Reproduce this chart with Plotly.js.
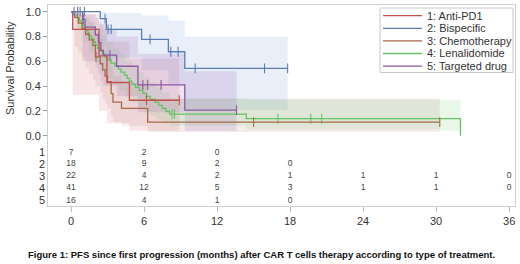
<!DOCTYPE html>
<html>
<head>
<meta charset="utf-8">
<script src="https://cdn.plot.ly/plotly-3.0.1.min.js"></script>
<style>html,body{margin:0;padding:0;background:#fff;}#chart{width:520px;height:264px;}</style>
</head>
<body>
<div id="chart"></div>
<script>
// ---------- data ----------
const groupNames = ["1: Anti-PD1", "2: Bispecific", "3: Chemotherapy", "4: Lenalidomide", "5: Targeted drug"];
const groupColors = ["#c4504e", "#5d7db0", "#a6694a", "#62c462", "#8c58a4"];
const bandColors = ["rgba(205,90,110,0.15)", "rgba(110,150,210,0.15)", "rgba(170,110,90,0.13)", "rgba(110,200,110,0.15)", "rgba(150,90,180,0.17)"];

// 1: Anti-PD1
const pd1Time  = [0, 0.14, 2.3, 2.95, 4.8, 8.9];
const pd1Surv  = [1, 0.857, 0.643, 0.429, 0.286, 0.286];
const pd1Lower = [1, 0.33, 0.2, 0.1, 0.04, 0.04];
const pd1Upper = [1, 0.98, 0.9, 0.76, 0.62, 0.62];
const pd1Cens  = [6.2, 8.9];

// 2: Bispecific
const bsTime  = [0, 2.4, 2.9, 5.8, 8.0, 9.35, 17.8];
const bsSurv  = [1, 0.944, 0.857, 0.777, 0.677, 0.543, 0.543];
const bsLower = [1, 0.74, 0.63, 0.53, 0.41, 0.21, 0.21];
const bsUpper = [1, 1, 0.99, 0.97, 0.93, 0.8, 0.8];
const bsCens  = [0.25, 0.75, 1.1, 2.8, 3.05, 3.3, 6.5, 8.2, 8.8, 10.2, 15.9, 17.8];

// 3: Chemotherapy
const chTime  = [0, 0.3, 0.6, 0.9, 1.2, 1.5, 1.8, 2.0, 2.4, 2.6, 2.8, 3.0, 3.3, 3.45, 4.15, 6.3, 30.3];
const chSurv  = [1, 0.955, 0.909, 0.864, 0.818, 0.773, 0.727, 0.636, 0.58, 0.53, 0.48, 0.435, 0.34, 0.27, 0.22, 0.11, 0.11];
const chLower = [1, 0.72, 0.67, 0.6, 0.55, 0.5, 0.45, 0.4, 0.35, 0.3, 0.26, 0.22, 0.16, 0.11, 0.08, 0.03, 0.03];
const chUpper = [1, 1, 0.99, 0.97, 0.95, 0.92, 0.89, 0.83, 0.78, 0.74, 0.69, 0.65, 0.56, 0.48, 0.42, 0.3, 0.3];
const chCens  = [2.05, 15.0, 30.3];

// 4: Lenalidomide
const lnTime = [0, 0.3, 0.5, 0.7, 0.9, 1.0, 1.2, 1.4, 1.5, 1.7, 1.9, 2.0, 2.2, 2.4, 2.6, 2.8, 3.0, 3.3, 3.6, 3.9, 4.1, 4.4, 4.6, 4.8, 5.0, 5.3, 5.6, 5.9, 6.2, 6.5, 6.9, 7.2, 7.5, 7.8, 8.1, 14.4, 32.0];
const lnSurv = [1, 0.976, 0.951, 0.927, 0.902, 0.878, 0.854, 0.829, 0.805, 0.780, 0.756, 0.732, 0.707, 0.683, 0.659, 0.634, 0.610, 0.585, 0.561, 0.537, 0.512, 0.488, 0.463, 0.439, 0.415, 0.390, 0.366, 0.342, 0.317, 0.293, 0.268, 0.244, 0.220, 0.195, 0.174, 0.137, 0];
const lnBandTime = [0, 0.5, 1.0, 1.5, 2.0, 2.5, 3.0, 3.5, 4.0, 4.5, 5.0, 5.5, 6.0, 6.5, 7.0, 7.5, 8.1, 14.4, 30.3, 32.0];
const lnLower = [1, 0.86, 0.76, 0.67, 0.59, 0.52, 0.46, 0.41, 0.36, 0.31, 0.27, 0.23, 0.19, 0.16, 0.13, 0.1, 0.08, 0.05, 0.04, 0.04];
const lnUpper = [1, 0.99, 0.96, 0.92, 0.87, 0.81, 0.76, 0.71, 0.66, 0.6, 0.56, 0.51, 0.47, 0.43, 0.39, 0.35, 0.3, 0.29, 0.29, 0.29];
const lnCens = [8.3, 8.5, 17.0, 19.7, 20.6];

// 5: Targeted drug
const tdTime  = [0, 0.95, 1.15, 2.0, 2.25, 2.45, 2.65, 3.75, 5.5, 9.35, 13.6];
const tdSurv  = [1, 0.9375, 0.875, 0.8125, 0.75, 0.6875, 0.65, 0.56, 0.41, 0.207, 0.207];
const tdLower = [1, 0.63, 0.6, 0.55, 0.5, 0.44, 0.4, 0.32, 0.19, 0.04, 0.04];
const tdUpper = [1, 0.99, 0.98, 0.95, 0.92, 0.89, 0.86, 0.8, 0.66, 0.52, 0.52];
const tdCens  = [0.55, 1.0, 3.2, 5.9, 6.3, 7.4, 13.6];

// numbers at risk
const riskTimes = [0, 6, 12, 18, 24, 30, 36];
const risk1 = [7, 2, 0, null, null, null, null];
const risk2 = [18, 9, 2, 0, null, null, null];
const risk3 = [22, 4, 2, 1, 1, 1, 0];
const risk4 = [41, 12, 5, 3, 1, 1, 0];
const risk5 = [16, 4, 1, 0, null, null, null];
const riskLabels = ["1", "2", "3", "4", "5"];

const yTicks = [0, 0.2, 0.4, 0.6, 0.8, 1.0];
const yTickText = ["0.0", "0.2", "0.4", "0.6", "0.8", "1.0"];
const xTicks = [0, 6, 12, 18, 24, 30, 36];
const caption = "Figure 1: PFS since first progression (months) after CAR T cells therapy according to type of treatment.";

// ---------- build ----------
const groups = [
  {t: pd1Time, s: pd1Surv, bt: pd1Time, lo: pd1Lower, up: pd1Upper, c: pd1Cens},
  {t: bsTime, s: bsSurv, bt: bsTime, lo: bsLower, up: bsUpper, c: bsCens},
  {t: chTime, s: chSurv, bt: chTime, lo: chLower, up: chUpper, c: chCens},
  {t: lnTime, s: lnSurv, bt: lnBandTime, lo: lnLower, up: lnUpper, c: lnCens},
  {t: tdTime, s: tdSurv, bt: tdTime, lo: tdLower, up: tdUpper, c: tdCens}
];
const risks = [risk1, risk2, risk3, risk4, risk5];

function stepAt(t, s, x) {
  let v = s[0];
  for (let i = 0; i < t.length; i++) { if (t[i] <= x) v = s[i]; }
  return v;
}

const traces = [];
groups.forEach((g, i) => {
  traces.push({x: g.bt, y: g.lo, mode: "lines", line: {shape: "hv", width: 0, color: bandColors[i]}, hoverinfo: "skip", showlegend: false});
  traces.push({x: g.bt, y: g.up, mode: "lines", line: {shape: "hv", width: 0, color: bandColors[i]}, fill: "tonexty", fillcolor: bandColors[i], hoverinfo: "skip", showlegend: false});
});
const drawOrder = [3, 2, 0, 4, 1];
drawOrder.forEach(i => {
  const g = groups[i];
  traces.push({x: g.t, y: g.s, mode: "lines", line: {shape: "hv", width: 1.3, color: groupColors[i]}, showlegend: false, hoverinfo: "skip"});
  traces.push({x: g.c, y: g.c.map(x => stepAt(g.t, g.s, x)), mode: "markers",
    marker: {symbol: "line-ns", size: 7, line: {width: 1.1, color: groupColors[i]}}, showlegend: false, hoverinfo: "skip"});
});

const rowY = [-0.135, -0.226, -0.326, -0.42, -0.522];
risks.forEach((r, i) => {
  const xs = [], ys = [], ts = [];
  r.forEach((v, k) => { if (v !== null) { xs.push(riskTimes[k]); ys.push(rowY[i]); ts.push(String(v)); } });
  traces.push({x: xs, y: ys, text: ts, mode: "text", textfont: {size: 8.5, color: "#444", family: "Liberation Sans, Arial, sans-serif"}, showlegend: false, hoverinfo: "skip"});
});

const L = 48, T = 5, W = 467, H = 201;
const px = x => (x - L) / W;
const py = y => (T + H - y) / H;

const annotations = [];
const shapes = [];
riskLabels.forEach((lab, i) => {
  annotations.push({xref: "paper", yref: "y", x: px(42), y: rowY[i], text: lab, showarrow: false, xanchor: "center", yanchor: "middle",
    font: {size: 11, color: "#333", family: "Liberation Sans, Arial, sans-serif"}, borderpad: 0});
});
annotations.push({xref: "paper", yref: "paper", x: px(10), y: py(68), text: "Survival Probability", textangle: -90, showarrow: false,
  xanchor: "center", yanchor: "middle", font: {size: 11, color: "#333", family: "Liberation Sans, Arial, sans-serif"}});
annotations.push({xref: "paper", yref: "paper", x: px(261), y: py(255), text: "<b>" + caption + "</b>", showarrow: false,
  xanchor: "center", yanchor: "middle", font: {size: 9.5, color: "#111", family: "Liberation Sans Narrow, Arial Narrow, Liberation Sans, sans-serif"}});
shapes.push({type: "rect", xref: "paper", yref: "paper", x0: px(380), x1: px(513), y0: py(72.5), y1: py(8), line: {color: "#c8c8c8", width: 1}, fillcolor: "rgba(255,255,255,0)"});
groupNames.forEach((nm, i) => {
  const yy = 15.7 + i * 12.6;
  shapes.push({type: "line", xref: "paper", yref: "paper", x0: px(383), x1: px(422), y0: py(yy), y1: py(yy), line: {color: groupColors[i], width: 1.3}});
  annotations.push({xref: "paper", yref: "paper", x: px(425), y: py(yy), text: nm, showarrow: false, xanchor: "left", yanchor: "middle",
    font: {size: 11, color: "#333", family: "Liberation Sans, Arial, sans-serif"}});
});

const layout = {
  width: 520, height: 264,
  margin: {l: L, r: 520 - L - W, t: T, b: 264 - T - H},
  paper_bgcolor: "#fff", plot_bgcolor: "#fff",
  showlegend: false,
  xaxis: {range: [-1.89, 36.48], tickvals: xTicks, ticktext: xTicks.map(String), ticks: "outside", ticklen: 5, tickcolor: "#bbb",
    showline: true, mirror: true, linecolor: "#cfcfcf", linewidth: 1, showgrid: false, zeroline: false,
    tickfont: {size: 11, color: "#333", family: "Liberation Sans, Arial, sans-serif"}},
  yaxis: {range: [-0.567, 1.054], tickvals: yTicks, ticktext: yTickText, ticks: "outside", ticklen: 4, tickcolor: "#999",
    showline: true, mirror: true, linecolor: "#cfcfcf", linewidth: 1, showgrid: false, zeroline: false,
    tickfont: {size: 11, color: "#333", family: "Liberation Sans, Arial, sans-serif"}},
  annotations: annotations,
  shapes: shapes
};

Plotly.newPlot("chart", traces, layout, {staticPlot: true, displayModeBar: false});
</script>
</body>
</html>
